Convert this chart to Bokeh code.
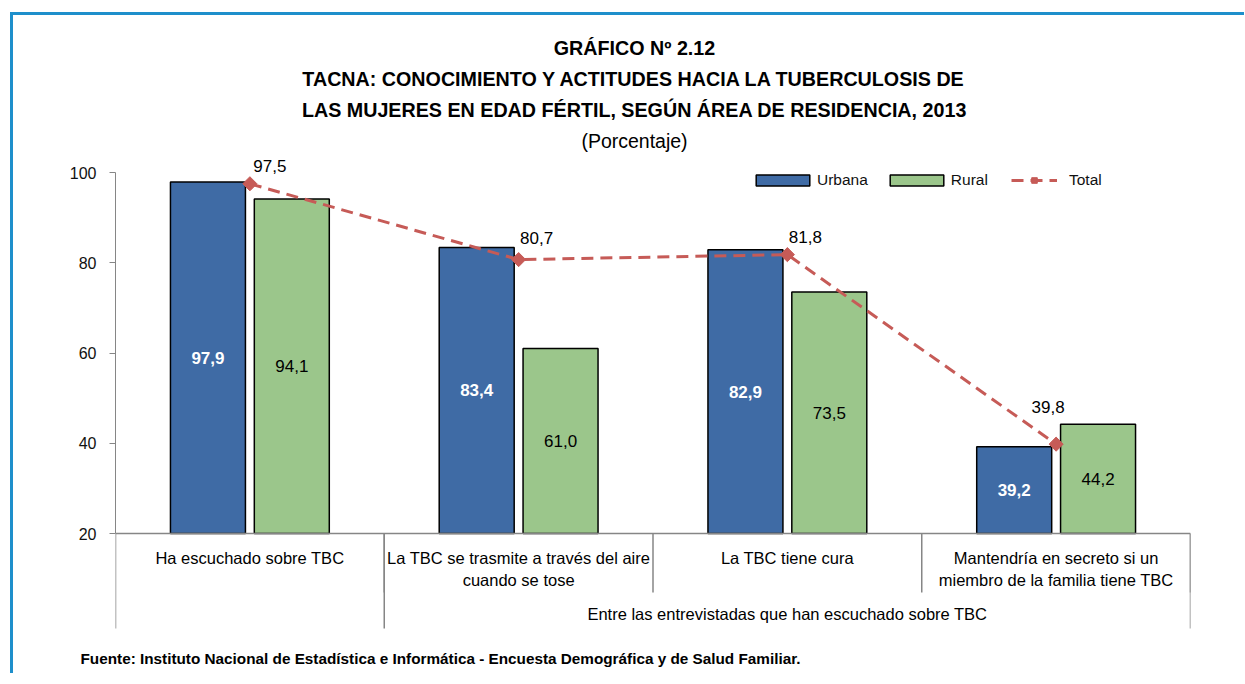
from bokeh.plotting import figure
from bokeh.models import Range1d, FixedTicker, Legend, LegendItem, Title
from bokeh.core.properties import value
from bokeh.embed import file_html
from bokeh.resources import INLINE

# ---------------- data ----------------
categories = [
    "Ha escuchado sobre TBC",
    "La TBC se trasmite a través del aire\ncuando se tose",
    "La TBC tiene cura",
    "Mantendría en secreto si un\nmiembro de la familia tiene TBC",
]
group_label = "Entre las entrevistadas que han escuchado sobre TBC"
urbana = [97.9, 83.4, 82.9, 39.2]
rural = [94.1, 61.0, 73.5, 44.2]
total = [97.5, 80.7, 81.8, 39.8]
y_ticks = [20, 40, 60, 80, 100]


def fmt(v):
    return f"{v:.1f}".replace(".", ",")


# ---------------- styles / geometry ----------------
FONT = "Liberation Sans"
BLUE = "#3F6BA5"
GREEN = "#9BC68B"
RED = "#C65B57"
GREY = "#868686"
CX0, CY0 = 13, 15            # canvas origin on the page
F_LEFT, F_RIGHT = 115, 1190  # frame x on page
F_BOTTOM = 640               # frame bottom on page
PX_PER_UNIT = 4.5125         # vertical scale
Y20 = 533                    # page y of value 20


def sy(py):
    return 20 + (Y20 - py) / PX_PER_UNIT


def sx(px):
    return (px - F_LEFT) / ((F_RIGHT - F_LEFT) / 4)


p = figure(
    frame_width=F_RIGHT - F_LEFT, frame_height=F_BOTTOM - CY0,
    output_backend="svg", toolbar_location=None,
    x_range=Range1d(0, 4), y_range=Range1d(sy(F_BOTTOM), sy(CY0)),
    x_axis_location=None, min_border_left=F_LEFT - CX0,
    min_border_right=54, min_border_top=0, min_border_bottom=33,
)
p.styles = {"position": "relative", "left": "10px", "top": "12px",
            "border-left": "3px solid #1E8FCB", "border-top": "3px solid #1E8FCB"}
p.outline_line_color = None
p.grid.visible = False
p.background_fill_color = "white"
p.border_fill_color = "white"

ax = p.yaxis[0]
ax.ticker = FixedTicker(ticks=y_ticks)
ax.bounds = (20, 100)
ax.axis_line_color = GREY
ax.major_tick_line_color = GREY
ax.major_tick_out = 6
ax.major_tick_in = 0
ax.minor_tick_line_color = None
ax.major_label_text_font = FONT
ax.major_label_text_font_size = "16px"
ax.major_label_text_color = "#111111"
ax.major_label_standoff = 13

idx = list(range(len(categories)))
xc = [i + 0.5 for i in idx]
off = 0.156
bw = 0.279

r_u = p.vbar(x=[x - off for x in xc], top=urbana, bottom=20, width=bw,
             fill_color=BLUE, line_color="black", line_width=1.5)
r_r = p.vbar(x=[x + off for x in xc], top=rural, bottom=20, width=bw,
             fill_color=GREEN, line_color="black", line_width=1.5)

# category axis line and separators
p.segment(x0=[0], y0=[20], x1=[len(categories)], y1=[20], line_color=GREY, line_width=1.5)
inner = [1, 2, 3, 4]
p.segment(x0=inner, y0=[20] * len(inner), x1=inner, y1=[sy(592)] * len(inner),
          line_color=GREY, line_width=1.5)
outer = [0, 1, 4]
p.segment(x0=outer, y0=[20] * len(outer), x1=outer, y1=[sy(628)] * len(outer),
          line_color=GREY, line_width=1.5)

# total line
r_tl = p.line(x=xc, y=total, line_color=RED, line_width=3, line_dash="12 7")
r_tm = p.scatter(x=xc, y=total, marker="square", size=10, angle=0.785398,
                 fill_color=RED, line_color=RED)

# value labels
p.text(x=[x - off for x in xc], y=[(20 + v) / 2 for v in urbana], text=[fmt(v) for v in urbana],
       text_font=value(FONT), text_font_size="17px", text_font_style="bold",
       text_color="white", text_align="center", text_baseline="middle")
p.text(x=[x + off for x in xc], y=[(20 + v) / 2 for v in rural], text=[fmt(v) for v in rural],
       text_font=value(FONT), text_font_size="17px", text_color="black",
       text_align="center", text_baseline="middle")
tdx = [20, 18, 18, -8]
tdy = [-18, -22, -18, -37]
p.text(x=xc, y=total, text=[fmt(v) for v in total], x_offset=tdx, y_offset=tdy,
       text_font=value(FONT), text_font_size="17px", text_color="black",
       text_align="center", text_baseline="middle")

# category labels
p.text(x=xc, y=[sy(548)] * len(xc), text=categories, text_font=value(FONT),
       text_font_size="16.5px", text_color="black", text_align="center",
       text_baseline="top", text_line_height=1.25)
p.text(x=[2.5], y=[sy(613)], text=[group_label], text_font=value(FONT),
       text_font_size="16.5px", text_color="black", text_align="center",
       text_baseline="middle")

# titles
titles = ["GRÁFICO Nº 2.12",
          "TACNA: CONOCIMIENTO Y ACTITUDES HACIA LA TUBERCULOSIS DE",
          "LAS MUJERES EN EDAD FÉRTIL, SEGÚN ÁREA DE RESIDENCIA, 2013"]
p.text(x=[sx(634)] * 3, y=[sy(47), sy(78), sy(109)], text=titles, text_font=value(FONT),
       text_font_size="19.7px", text_font_style="bold", text_color="black",
       text_align="center", text_baseline="middle")
p.text(x=[sx(634)], y=[sy(140)], text=["(Porcentaje)"], text_font=value(FONT),
       text_font_size="19.5px", text_color="black", text_align="center",
       text_baseline="middle")

# footnote
p.add_layout(Title(text="Fuente: Instituto Nacional de Estadística e Informática - Encuesta Demográfica y de Salud Familiar.",
                   align="left", offset=80 - F_LEFT, standoff=14,
                   text_font=FONT, text_font_size="15.3px", text_font_style="bold",
                   text_color="black"), "below")

legend_bars = Legend(items=[LegendItem(label="Urbana", renderers=[r_u]),
                            LegendItem(label="Rural", renderers=[r_r])],
                     orientation="horizontal", location=(634, 451), glyph_width=67,
                     glyph_height=14, label_standoff=1, spacing=15, padding=0, margin=0,
                     border_line_color=None, background_fill_alpha=0,
                     label_text_font=FONT, label_text_font_size="15.5px",
                     label_text_color="#111111")
legend_line = Legend(items=[LegendItem(label="Total", renderers=[r_tl, r_tm])],
                     orientation="horizontal", location=(896, 451), glyph_width=46,
                     glyph_height=14, label_standoff=12, padding=0, margin=0,
                     border_line_color=None, background_fill_alpha=0,
                     label_text_font=FONT, label_text_font_size="15.5px",
                     label_text_color="#111111")
p.add_layout(legend_bars)
p.add_layout(legend_line)

open("out.html", "w").write(file_html(p, INLINE))
